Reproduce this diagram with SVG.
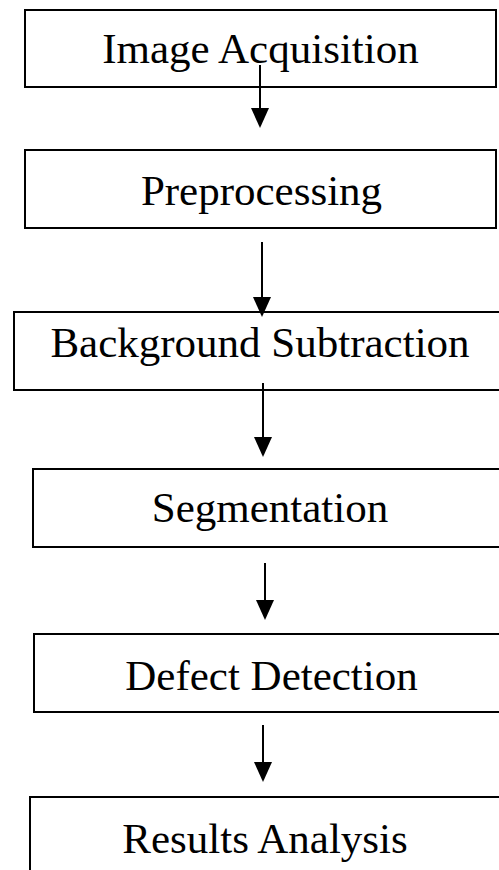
<svg xmlns="http://www.w3.org/2000/svg" width="499" height="870" viewBox="0 0 499 870">
<style>
.box{fill:#fff;stroke:#000;stroke-width:2}
.lbl{font-family:"Liberation Serif","Times New Roman",serif;font-size:43px;fill:#000;text-anchor:middle}
.conn{stroke:#000;stroke-width:2;fill:none}
.head{fill:#000}
</style>
<rect width="499" height="870" fill="#fff"/>
<g id="n1"><rect class="box" x="25" y="10" width="471" height="77"/><text class="lbl" x="260.5" y="63">Image Acquisition</text></g>
<g id="n2"><rect class="box" x="25" y="150" width="471" height="78"/><text class="lbl" x="261.5" y="205">Preprocessing</text></g>
<g id="n3"><rect class="box" x="14" y="312" width="500" height="78"/><text class="lbl" x="260" y="357">Background Subtraction</text></g>
<g id="n4"><rect class="box" x="33" y="469" width="480" height="78"/><text class="lbl" x="270" y="522">Segmentation</text></g>
<g id="n5"><rect class="box" x="34" y="634" width="480" height="78"/><text class="lbl" x="271.5" y="690">Defect Detection</text></g>
<g id="n6"><rect class="box" x="30" y="797" width="480" height="90"/><text class="lbl" x="265" y="853">Results Analysis</text></g>
<g id="connectors">
<line class="conn" x1="260" y1="65" x2="260" y2="110"/><polygon class="head" points="251,108 269,108 260,128"/>
<line class="conn" x1="262" y1="242" x2="262" y2="299"/><polygon class="head" points="253,297 271,297 262,317"/>
<line class="conn" x1="263" y1="383" x2="263" y2="439"/><polygon class="head" points="254,437 272,437 263,457"/>
<line class="conn" x1="265" y1="563" x2="265" y2="602"/><polygon class="head" points="256,600 274,600 265,620"/>
<line class="conn" x1="263" y1="725" x2="263" y2="764"/><polygon class="head" points="254,762 272,762 263,782"/>
</g>
</svg>
